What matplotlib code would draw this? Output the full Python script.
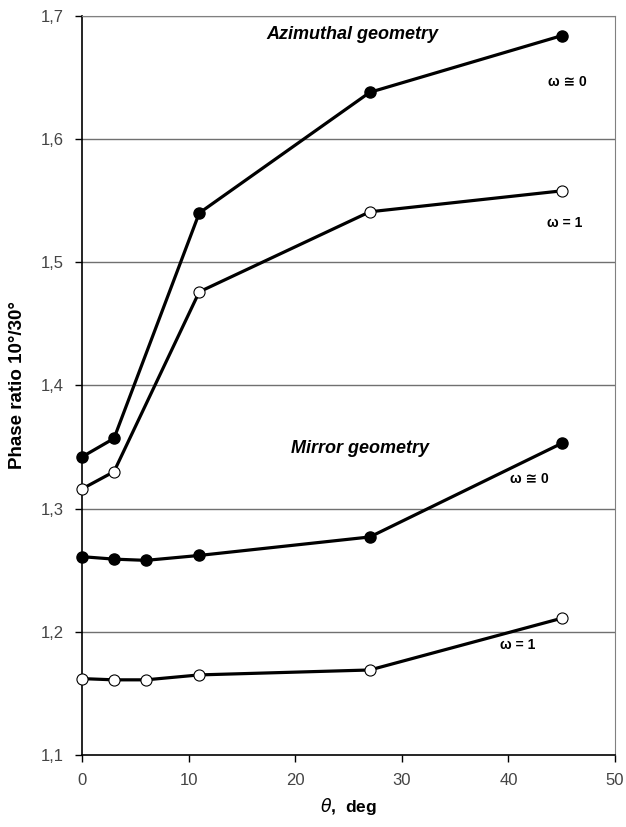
import matplotlib.pyplot as plt
import numpy as np

plt.rcParams['font.family'] = ['Liberation Sans', 'DejaVu Sans']

# azimuthal geometry
az_theta = [0, 3, 11, 27, 45]
az_w0 = [1.342, 1.357, 1.540, 1.638, 1.684]
az_w1 = [1.316, 1.330, 1.476, 1.541, 1.558]

# mirror geometry
mir_theta = [0, 3, 6, 11, 27, 45]
mir_w0 = [1.261, 1.259, 1.258, 1.262, 1.277, 1.353]
mir_w1 = [1.162, 1.161, 1.161, 1.165, 1.169, 1.211]

xticks = [0, 10, 20, 30, 40, 50]
yticks = [1.1, 1.2, 1.3, 1.4, 1.5, 1.6, 1.7]
ytick_labels = [('%.1f' % v).replace('.', ',') for v in yticks]

fig = plt.figure(figsize=(6.26, 8.27), dpi=100)
ax = fig.add_axes([0.131, 0.0871, 0.8514, 0.8936])

for v in yticks[1:]:
    ax.axhline(v, color='#707070', lw=1.0, zorder=1)

filled = dict(color='black', lw=2.3, marker='o', ms=8, mfc='black', mec='black', zorder=3, clip_on=False)
hollow = dict(color='black', lw=2.3, marker='o', ms=8, mfc='white', mec='black', mew=0.8, zorder=3, clip_on=False)

ax.plot(az_theta, az_w0, **filled)
ax.plot(az_theta, az_w1, **hollow)
ax.plot(mir_theta, mir_w0, **filled)
ax.plot(mir_theta, mir_w1, **hollow)

ax.set_xlim(0, 50)
ax.set_ylim(1.1, 1.7)
ax.set_xticks(xticks)
ax.set_yticks(yticks)
ax.set_yticklabels(ytick_labels)
ax.tick_params(axis='both', direction='out', length=5, width=1, colors='black',
               labelcolor='#444444', labelsize=12, pad=8)

ax.spines['top'].set_color('#808080')
ax.spines['right'].set_color('#808080')
ax.spines['left'].set_linewidth(1.2)
ax.spines['bottom'].set_linewidth(1.2)

ax.set_ylabel('Phase ratio 10°/30°', fontsize=13.5, fontweight='bold', labelpad=11)
ax.set_xlabel(r'$\theta$,  deg', fontsize=12.5, fontweight='bold', labelpad=6)

lab = dict(fontsize=13, fontweight='bold', fontstyle='italic', ha='center', va='center')
ax.text(25.4, 1.685, 'Azimuthal geometry', **lab)
ax.text(26.1, 1.349, 'Mirror geometry', **lab)

om = dict(fontsize=10, fontweight='bold', ha='center', va='center')
ax.text(45.5, 1.646, 'ω ≅ 0', **om)
ax.text(45.3, 1.532, 'ω = 1', **om)
ax.text(42.0, 1.324, 'ω ≅ 0', **om)
ax.text(40.9, 1.189, 'ω = 1', **om)

fig.savefig('out.png', dpi=100)
